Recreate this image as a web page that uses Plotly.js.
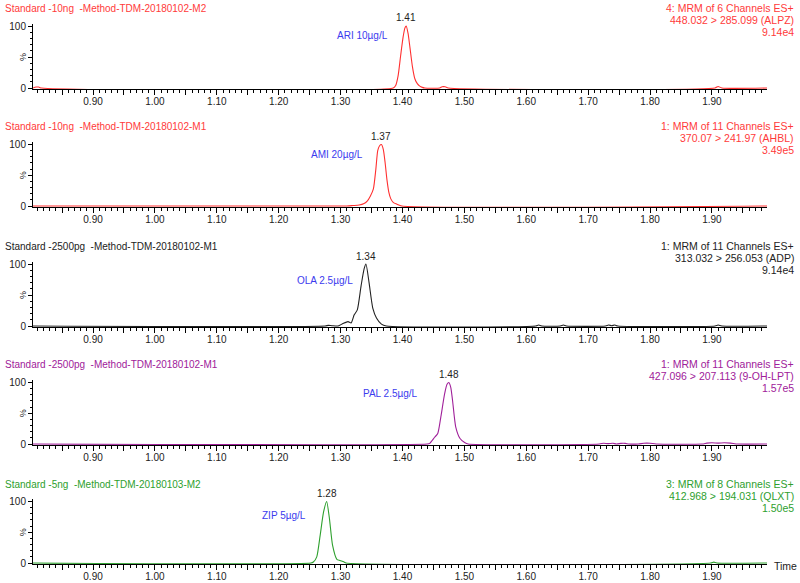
<!DOCTYPE html>
<html>
<head>
<meta charset="utf-8">
<script src="https://cdn.plot.ly/plotly-3.0.1.min.js"></script>
<style>html,body{margin:0;padding:0;background:#fff;}#chart{width:800px;height:583px;}</style>
</head>
<body>
<div id="chart"></div>
<script>
// ---------------- DATA ----------------
const tickValues = [0.85,0.90,0.95,1.00,1.05,1.10,1.15,1.20,1.25,1.30,1.35,1.40,1.45,1.50,1.55,1.60,1.65,1.70,1.75,1.80,1.85,1.90,1.95];
const tickLabels = ["","0.90","","1.00","","1.10","","1.20","","1.30","","1.40","","1.50","","1.60","","1.70","","1.80","","1.90",""];

const titlesLeft = [
  "Standard -10ng  -Method-TDM-20180102-M2",
  "Standard -10ng  -Method-TDM-20180102-M1",
  "Standard -2500pg  -Method-TDM-20180102-M1",
  "Standard -2500pg  -Method-TDM-20180102-M1",
  "Standard -5ng  -Method-TDM-20180103-M2"
];
const channelLine = ["4: MRM of 6 Channels ES+","1: MRM of 11 Channels ES+","1: MRM of 11 Channels ES+","1: MRM of 11 Channels ES+","3: MRM of 8 Channels ES+"];
const transitionLine = ["448.032 > 285.099 (ALPZ)","370.07 > 241.97 (AHBL)","313.032 > 256.053 (ADP)","427.096 > 207.113 (9-OH-LPT)","412.968 > 194.031 (QLXT)"];
const intensityLine = ["9.14e4","3.49e5","9.14e4","1.57e5","1.50e5"];
const compoundLabels = ["ARI 10µg/L","AMI 20µg/L","OLA 2.5µg/L","PAL 2.5µg/L","ZIP 5µg/L"];
const peakTimes = [1.406, 1.366, 1.341, 1.475, 1.2775];
const peakLabels = ["1.41","1.37","1.34","1.48","1.28"];

// Panel 1: ARI
const ariTime = [0.803,0.808,0.812,0.817,1.385,1.389,1.393,1.397,1.401,1.404,1.406,1.409,1.412,1.416,1.420,1.424,1.428,1.432,1.436,1.460,1.464,1.469,1.474,1.905,1.910,1.916,1.989];
const ariPct  = [0,1.5,1.5,0,0,4,20,52,82,97,100,88,66,35,15,7,3,1,0,0,2,2,0,0,2.5,0,0];
// Panel 2: AMI
const amiTime = [0.803,1.310,1.320,1.330,1.338,1.343,1.348,1.353,1.357,1.360,1.363,1.366,1.369,1.372,1.375,1.378,1.381,1.385,1.391,1.399,1.989];
const amiPct  = [0,0,0.7,1.5,4,8,16,28,60,90,98,100,92,70,42,22,12,6,3,0,0];
// Panel 3: OLA
const olaTime = [0.803,1.275,1.280,1.286,1.296,1.304,1.312,1.317,1.322,1.327,1.333,1.338,1.341,1.346,1.352,1.358,1.366,1.374,1.615,1.620,1.625,1.655,1.660,1.665,1.728,1.733,1.738,1.743,1.748,1.905,1.910,1.916,1.989];
const olaPct  = [0,0,1,0.5,0,4,7,5,18,26,64,92,100,70,29,13,3,0,0,1.5,0,0,1.5,0,0,1.5,0.5,1.5,0,0,1.5,0,0];
// Panel 4: PAL
const palTime = [0.803,1.440,1.444,1.452,1.457,1.462,1.468,1.472,1.475,1.478,1.481,1.486,1.493,1.501,1.506,1.718,1.725,1.732,1.740,1.746,1.753,1.760,1.766,1.781,1.790,1.800,1.810,1.884,1.892,1.900,1.910,1.920,1.930,1.942,1.989];
const palPct  = [0,0,1,11,17,44,81,97,100,92,70,28,9,2,0,0,1.2,0.6,1.2,0,1,1,0,0,1.2,1.2,0,0,1.5,2,1.5,2,1.5,0,0];
// Panel 5: ZIP
const zipTime = [0.803,1.252,1.256,1.2615,1.267,1.2725,1.2775,1.282,1.287,1.294,1.299,1.305,1.309,1.898,1.903,1.908,1.989];
const zipPct  = [0,0,1.6,10,45,83,100,72,29,6,4,2,0,0,1.5,0,0];

const seriesTime = [ariTime, amiTime, olaTime, palTime, zipTime];
const seriesPct  = [ariPct, amiPct, olaPct, palPct, zipPct];

// ---------------- STYLE / LAYOUT ----------------
const W = 800, H = 583;
const lineColors = ["#ff3030","#ff3030","#222222","#a0209a","#2ea02e"];
const textColors = ["#ff3a3a","#ff3a3a","#222222","#a0209a","#2ea02e"];
const labelBlue = "#3b3bee";
const y100px = [26, 144.5, 264, 382.5, 501.5];
const y0px   = [88, 206, 326, 444, 563];
const titlePx = [8, 126, 246, 364, 484];
// compound label positions (time, %)
const labelPos = [[1.3346,84],[1.295,84],[1.275,74],[1.381,82],[1.208,77]];

const font = "Liberation Sans, Arial, sans-serif";
const yMin = -1.5, yMax = 104;
const xDom = [33/W, 767/W];

const traces = [];
const layout = {
  width: W, height: H,
  margin: {l:0, r:0, t:0, b:0, pad:0},
  paper_bgcolor: "#fff", plot_bgcolor: "#fff",
  showlegend: false,
  font: {family: font, size: 10, color: "#222"},
  annotations: []
};
const py = p => 1 - p / H;

for (let i = 0; i < 5; i++) {
  const n = i === 0 ? "" : String(i + 1);
  const pxPerUnit = (y0px[i] - y100px[i]) / 100;
  const botPx = y0px[i] - yMin * pxPerUnit;
  const topPx = y100px[i] - (yMax - 100) * pxPerUnit;
  traces.push({
    x: seriesTime[i], y: seriesPct[i], type: "scatter", mode: "lines",
    xaxis: "x" + n, yaxis: "y" + n,
    line: {color: lineColors[i], width: 1.1, shape: "spline", smoothing: 0.6},
    hoverinfo: "skip"
  });
  layout["xaxis" + n] = {
    domain: xDom, range: [0.803, 1.989], anchor: "y" + n,
    showgrid: false, zeroline: false, showline: true, linecolor: "#000", linewidth: 1.5,
    layer: "below traces",
    tickmode: "array", tickvals: tickValues, ticktext: tickLabels,
    ticks: "outside", ticklen: 5, tickwidth: 1, tickcolor: "#000",
    ticklabelstandoff: -2,
    tickfont: {family: font, size: 10, color: "#222"},
    minor: {dtick: 0.01, tick0: 0.80, ticks: "outside", ticklen: 3, tickcolor: "#000", tickwidth: 1, showgrid: false},
    fixedrange: true
  };
  layout["yaxis" + n] = {
    domain: [1 - botPx / H, 1 - topPx / H], range: [yMin, yMax], anchor: "x" + n,
    showgrid: false, zeroline: false, showline: true, linecolor: "#000", linewidth: 1,
    tickmode: "array", tickvals: [0, 50, 100], ticktext: ["0", "", "100"],
    ticks: "outside", ticklen: 4, tickwidth: 1, tickcolor: "#000",
    tickfont: {family: font, size: 10, color: "#222"},
    minor: {dtick: 10, tick0: 0, ticks: "outside", ticklen: 2, tickcolor: "#000", tickwidth: 1, showgrid: false},
    fixedrange: true
  };
  // left title
  layout.annotations.push({
    xref: "paper", yref: "paper", x: 3 / W, y: py(titlePx[i]), xanchor: "left", yanchor: "middle",
    text: titlesLeft[i].replace(/  /g, "\u00a0\u00a0"), showarrow: false,
    font: {family: font, size: 10, color: textColors[i]}
  });
  // right header lines
  [channelLine[i], transitionLine[i], intensityLine[i]].forEach((t, k) => {
    layout.annotations.push({
      xref: "paper", yref: "paper", x: 796 / W, y: py(titlePx[i] + 12 * k), xanchor: "right", yanchor: "middle",
      text: t, showarrow: false, font: {family: font, size: 10.5, color: textColors[i]}
    });
  });
  // "%" label
  layout.annotations.push({
    xref: "paper", yref: "paper", x: 23 / W, y: py((y0px[i] + y100px[i]) / 2), xanchor: "center", yanchor: "middle",
    text: "%", textangle: -90, showarrow: false, font: {family: font, size: 9, color: "#222"}
  });
  // peak RT label
  layout.annotations.push({
    xref: "x" + n, yref: "y" + n, x: peakTimes[i], y: 100, yshift: 8, xanchor: "center", yanchor: "middle",
    text: peakLabels[i], showarrow: false, font: {family: font, size: 10, color: "#222"}
  });
  // compound label
  layout.annotations.push({
    xref: "x" + n, yref: "y" + n, x: labelPos[i][0], y: labelPos[i][1], xanchor: "center", yanchor: "middle",
    text: compoundLabels[i], showarrow: false, font: {family: font, size: 10, color: labelBlue}
  });
}
layout.annotations.push({
  xref: "paper", yref: "paper", x: 772 / W, y: py(566), xanchor: "left", yanchor: "middle",
  text: "Time", showarrow: false, font: {family: font, size: 10.5, color: "#222"}
});

Plotly.newPlot("chart", traces, layout, {staticPlot: true, displayModeBar: false});
</script>
</body>
</html>
